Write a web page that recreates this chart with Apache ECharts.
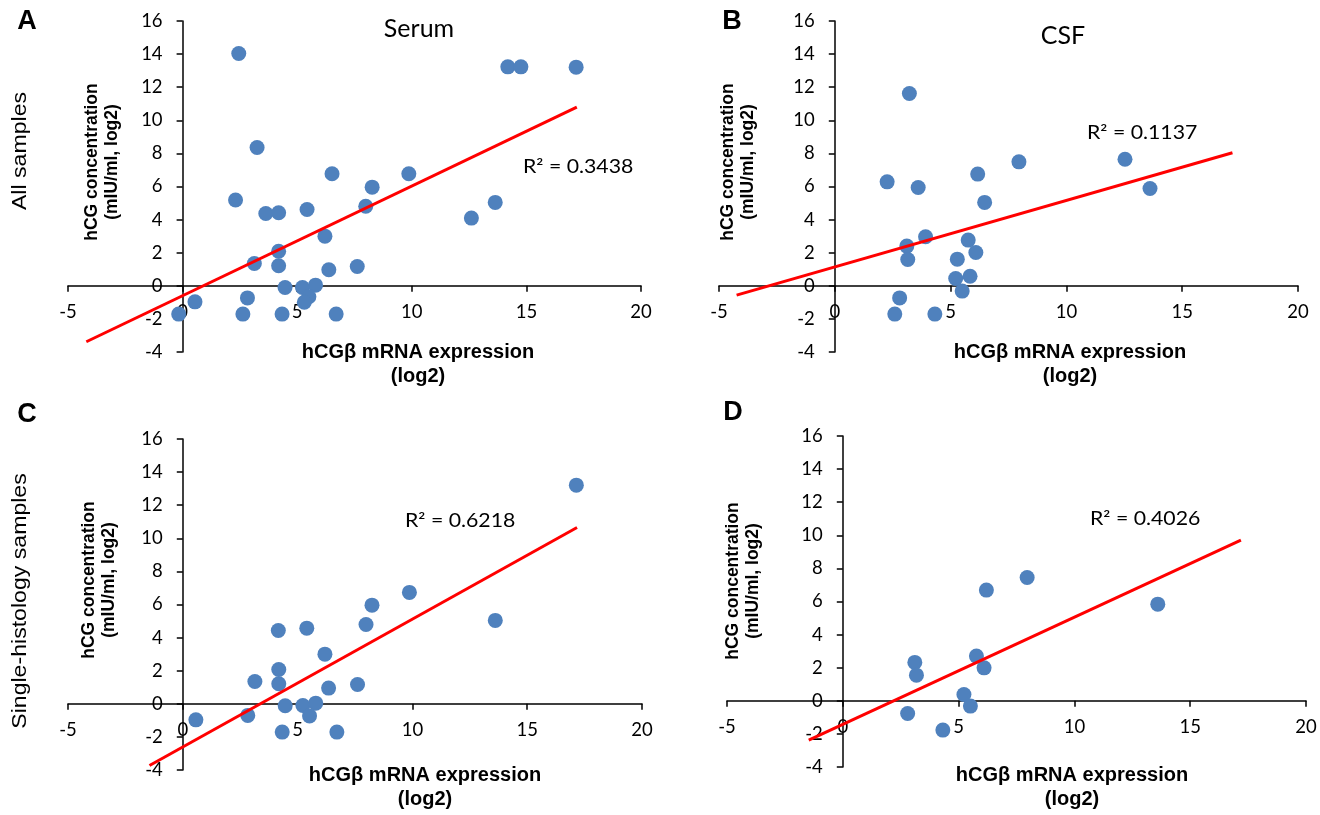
<!DOCTYPE html>
<html>
<head>
<meta charset="utf-8">
<script src="https://cdn.jsdelivr.net/npm/echarts@6/dist/echarts.min.js"></script>
<style>
html,body{margin:0;padding:0;background:#fff;}
#chart{width:1320px;height:815px;}
</style>
</head>
<body>
<div id="chart"></div>
<script>
// ---- Data ----
const xTicks = [-5, 0, 5, 10, 15, 20];
const yTicks = [-4, -2, 0, 2, 4, 6, 8, 10, 12, 14, 16];

// A: Serum, all samples
const serumAllX = [2.45, 14.19, 14.76, 17.17, 3.25, 6.52, 9.87, 8.27, 2.31, 13.64, 7.99, 3.63, 4.19, 5.43, 12.6, 6.21, 4.19, 3.13, 4.19, 6.38, 7.62, 4.47, 5.23, 5.8, 5.51, 5.31, 2.83, 0.54, -0.17, 2.63, 4.34, 6.7];
const serumAllY = [14.04, 13.23, 13.23, 13.21, 8.36, 6.77, 6.77, 5.96, 5.18, 5.04, 4.81, 4.37, 4.41, 4.61, 4.09, 3.0, 2.09, 1.35, 1.21, 0.97, 1.17, -0.1, -0.1, 0.04, -0.66, -0.99, -0.73, -0.97, -1.71, -1.71, -1.71, -1.71];
const serumAllTrend = [[-4.2, -3.38], [17.2, 10.8]];
const serumAllR2 = 'R² = 0.3438';

// B: CSF, all samples
const csfAllX = [3.22, 2.26, 3.6, 6.17, 6.47, 7.95, 12.53, 13.61, 3.92, 3.11, 3.15, 5.76, 6.09, 5.29, 5.22, 5.84, 5.5, 2.8, 2.59, 4.32];
const csfAllY = [11.62, 6.28, 5.94, 6.75, 5.04, 7.49, 7.65, 5.88, 2.96, 2.4, 1.59, 2.76, 2.01, 1.61, 0.44, 0.58, -0.32, -0.73, -1.71, -1.71];
const csfAllTrend = [[-4.24, -0.56], [17.17, 8.04]];
const csfAllR2 = 'R² = 0.1137';

// C: Serum, single-histology samples
const serumSingleX = [17.14, 9.87, 8.24, 7.98, 13.61, 4.16, 5.4, 6.19, 4.18, 3.14, 4.18, 6.35, 7.61, 4.46, 5.23, 5.79, 5.52, 2.83, 0.57, 4.33, 6.71];
const serumSingleY = [13.21, 6.73, 5.96, 4.79, 5.04, 4.43, 4.57, 3.0, 2.07, 1.35, 1.21, 0.95, 1.17, -0.12, -0.1, 0.04, -0.73, -0.7, -0.97, -1.71, -1.71];
const serumSingleTrend = [[-1.45, -3.73], [17.17, 10.65]];
const serumSingleR2 = 'R² = 0.6218';

// D: CSF, single-histology samples
const csfSingleX = [7.96, 6.2, 13.6, 3.11, 3.18, 5.77, 6.1, 5.23, 5.51, 2.8, 4.32];
const csfSingleY = [7.45, 6.69, 5.84, 2.32, 1.55, 2.7, 1.99, 0.38, -0.32, -0.77, -1.77];
const csfSingleTrend = [[-1.47, -2.38], [17.19, 9.71]];
const csfSingleR2 = 'R² = 0.4026';

const panelLetters = ['A', 'B', 'C', 'D'];
const panelTitles = ['Serum', 'CSF'];
const rowLabels = ['All samples', 'Single-histology samples'];
const xName = 'hCGβ mRNA expression\n(log2)';
const yName = 'hCG concentration\n(mIU/ml, log2)';

// ---- Layout ----
const grids = [
  {left: 68, top: 21, width: 573, height: 331},
  {left: 719, top: 21, width: 579, height: 331},
  {left: 68, top: 439, width: 574, height: 331},
  {left: 727, top: 436, width: 579, height: 331}
];
const panels = [
  {x: serumAllX, y: serumAllY, trend: serumAllTrend, r2: serumAllR2},
  {x: csfAllX, y: csfAllY, trend: csfAllTrend, r2: csfAllR2},
  {x: serumSingleX, y: serumSingleY, trend: serumSingleTrend, r2: serumSingleR2},
  {x: csfSingleX, y: csfSingleY, trend: csfSingleTrend, r2: csfSingleR2}
];
const r2Pos = [[523, 167], [1087, 133], [405, 521], [1090, 519]];
const letterPos = [[27, 22], [732, 22], [27, 415], [733, 413]];
const titlePos = [[419, 29], [1063, 36]];
const yNamePos = [[102, 162], [738, 162], [99, 580], [743, 581]];
const xNamePos = [[418, 340], [1070, 340], [425, 763], [1072, 763]];
const rowLabelPos = [[20, 151], [20, 601]];

const xMin = xTicks[0], xMax = xTicks[xTicks.length - 1];
const yMin = yTicks[0], yMax = yTicks[yTicks.length - 1];
const tickFont = 'Lato';

function lineStyles() {
  return {
    axisLine: {onZero: false, lineStyle: {color: '#000', width: 1.5}},
    axisTick: {show: true, length: 6, lineStyle: {color: '#000', width: 1.5}},
    splitLine: {show: false}
  };
}

// axes cross at zero: shift each axis (line, ticks, labels) to the other axis' zero
const xAxes = grids.map((g, i) => Object.assign({
  gridIndex: i, type: 'value', min: xMin, max: xMax, interval: 5, position: 'bottom',
  offset: -g.height * (0 - yMin) / (yMax - yMin),
  axisLabel: {color: '#000', fontFamily: tickFont, fontSize: 18.5, margin: 17}
}, lineStyles()));
const yAxes = grids.map((g, i) => Object.assign({
  gridIndex: i, type: 'value', min: yMin, max: yMax, interval: 2, position: 'left',
  offset: -g.width * (0 - xMin) / (xMax - xMin),
  axisLabel: {color: '#000', fontFamily: tickFont, fontSize: 18.5, margin: 20}
}, lineStyles()));

const series = [];
panels.forEach((p, i) => {
  series.push({
    type: 'scatter', xAxisIndex: i, yAxisIndex: i,
    data: p.x.map((v, k) => [v, p.y[k]]),
    symbolSize: 15,
    itemStyle: {color: '#4F81BD', opacity: 1},
    z: 2
  });
  series.push({
    type: 'line', xAxisIndex: i, yAxisIndex: i,
    data: p.trend,
    symbol: 'none',
    lineStyle: {color: '#FF0000', width: 3},
    z: 3
  });
});

const graphic = [];
panelLetters.forEach((t, i) => graphic.push({
  type: 'text', x: letterPos[i][0], y: letterPos[i][1],
  style: {text: t, font: 'bold 27px "Liberation Sans", Arial', fill: '#000', align: 'center', verticalAlign: 'middle'}
}));
titlePos.forEach((pos, i) => graphic.push({
  type: 'text', x: pos[0], y: pos[1],
  style: {text: panelTitles[i], font: '25px Lato', fill: '#000', align: 'center', verticalAlign: 'middle'}
}));
panels.forEach((p, i) => graphic.push({
  type: 'text', x: r2Pos[i][0], y: r2Pos[i][1], scaleX: 1.15,
  style: {text: p.r2, font: '18.5px Lato', fill: '#000', align: 'left', verticalAlign: 'middle'}
}));
yNamePos.forEach(pos => graphic.push({
  type: 'text', x: pos[0], y: pos[1], rotation: Math.PI / 2,
  style: {text: yName, font: 'bold 17.5px "Liberation Sans", Arial', fill: '#000', align: 'center', verticalAlign: 'middle', lineHeight: 20}
}));
xNamePos.forEach(pos => graphic.push({
  type: 'text', x: pos[0], y: pos[1],
  style: {text: xName, font: 'bold 20px "Liberation Sans", Arial', fill: '#000', align: 'center', verticalAlign: 'top', lineHeight: 24}
}));
rowLabelPos.forEach((pos, i) => graphic.push({
  type: 'text', x: pos[0], y: pos[1], rotation: Math.PI / 2, scaleX: 1.1,
  style: {text: rowLabels[i], font: '21px "Liberation Sans", Arial', fill: '#000', align: 'center', verticalAlign: 'middle'}
}));

const chart = echarts.init(document.getElementById('chart'), null, {renderer: 'canvas'});
chart.setOption({
  animation: false,
  backgroundColor: '#fff',
  grid: grids,
  xAxis: xAxes,
  yAxis: yAxes,
  series: series,
  graphic: graphic
});
</script>
</body>
</html>
